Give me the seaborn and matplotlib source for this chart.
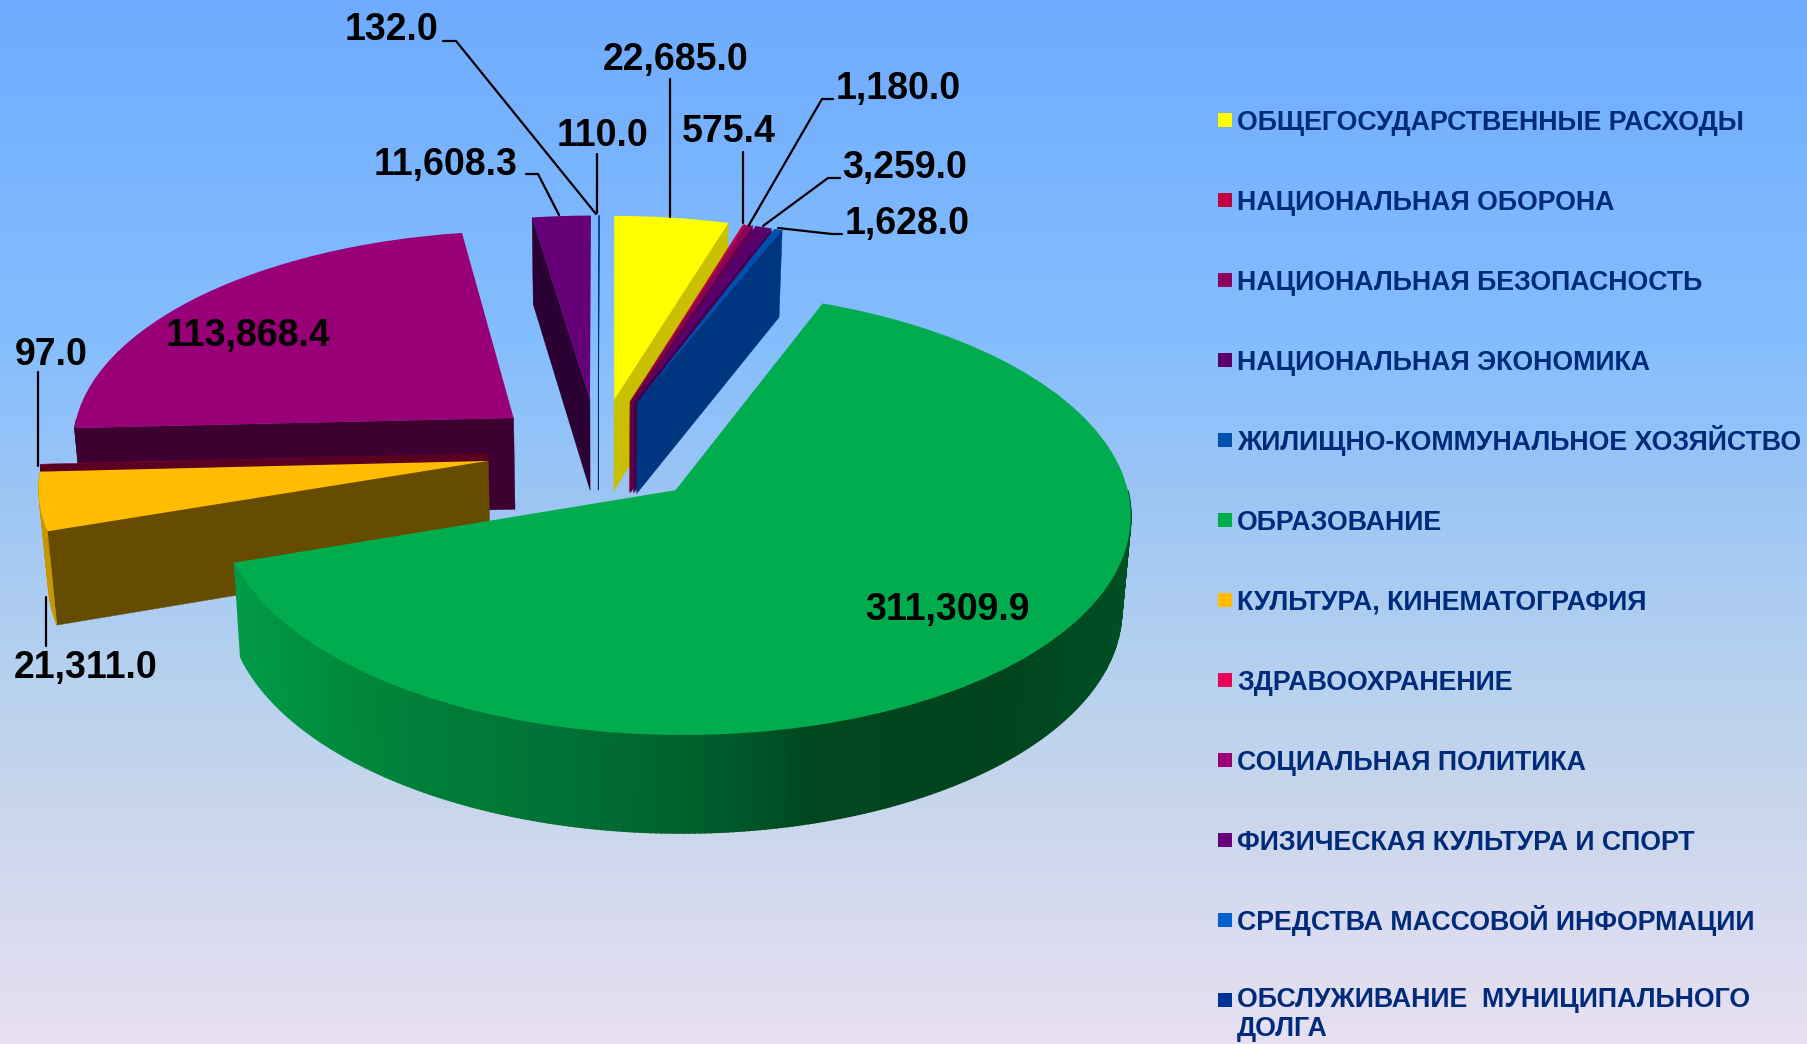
import numpy as np
import matplotlib
matplotlib.use('Agg')
import matplotlib.pyplot as plt
import matplotlib.transforms as mtrans
from matplotlib.colors import LinearSegmentedColormap
import seaborn as sns

categories = ['ОБЩЕГОСУДАРСТВЕННЫЕ РАСХОДЫ', 'НАЦИОНАЛЬНАЯ ОБОРОНА', 'НАЦИОНАЛЬНАЯ БЕЗОПАСНОСТЬ',
              'НАЦИОНАЛЬНАЯ ЭКОНОМИКА', 'ЖИЛИЩНО-КОММУНАЛЬНОЕ ХОЗЯЙСТВО', 'ОБРАЗОВАНИЕ',
              'КУЛЬТУРА, КИНЕМАТОГРАФИЯ', 'ЗДРАВООХРАНЕНИЕ', 'СОЦИАЛЬНАЯ ПОЛИТИКА',
              'ФИЗИЧЕСКАЯ КУЛЬТУРА И СПОРТ', 'СРЕДСТВА МАССОВОЙ ИНФОРМАЦИИ',
              'ОБСЛУЖИВАНИЕ  МУНИЦИПАЛЬНОГО\nДОЛГА']
values = [22685.0, 575.4, 1180.0, 3259.0, 1628.0, 311309.9, 21311.0, 97.0, 113868.4, 11608.3, 110.0, 132.0]

top_colors = ['#FFFF00', '#C00040', '#8A0060', '#5A006A', '#0050B0', '#00AC4E',
              '#FFBC00', '#E8005A', '#990078', '#660078', '#0060D0', '#003399']
face_colors = ['#C8C000', '#8A0030', '#600040', '#400050', '#003580', '#00602C',
               '#664C00', '#5A0020', '#3D0030', '#2B0033', '#0040A0', '#002266']
rim_colors = ['#C8C000', '#8A0030', '#600040', '#400050', '#003580', '#00602C',
              '#C89600', '#5A0020', '#3D0030', '#2B0033', '#0040A0', '#002266']

# back to front, the slices are painted over each other
draw_order = [8, 7, 6, 9, 10, 11, 0, 1, 2, 3, 4, 5]

# where the value labels sit (pixels) and their leader lines
label_pos = [(676, 60), (729, 132), (898, 89), (905, 168), (907, 224), (947, 610),
             (86, 668), (51, 355), (248, 336), (446, 165), (603, 136), (392, 30)]
leaders = [[(670, 79), (670, 217)],
           [(743, 152), (743, 223)],
           [(833, 99), (822, 99), (749, 225)],
           [(840, 178), (828, 178), (763, 226)],
           [(842, 234), (832, 234), (778, 228)],
           [(46, 646), (46, 597)],
           [(38, 372), (38, 466)],
           [(526, 174), (538, 174), (559, 215)],
           [(597, 154), (597, 213)],
           [(443, 41), (456, 41), (596, 214)]]

W, H = 1808, 1044
CX, CY = 598, 451
A, B, P = 444, 212, 0.1
DEPTH = 92
SHRINK = 0.017  # the underside of the pie is a bit narrower


def project(x, y, z=0.0):
    den = 1 + P * y
    return (CX + 1.5 * y + A * (1 - SHRINK * z) * x / den,
            CY - B * y / den + z * DEPTH / np.sqrt(den))


class Tilt(mtrans.Transform):
    input_dims = 2
    output_dims = 2

    def transform_non_affine(self, values):
        values = np.asarray(values)
        px, py = project(values[:, 0], values[:, 1])
        return np.column_stack([px, py])


sns.set_theme(style='white')
plt.rcParams['font.family'] = ['Liberation Sans', 'DejaVu Sans']

fig, ax = plt.subplots(figsize=(W / 100, H / 100), dpi=100)
fig.subplots_adjust(0, 0, 1, 1)

wedges, _ = ax.pie(values, colors=top_colors, explode=[0.25] * len(values), startangle=90,
                   counterclock=False, radius=1, wedgeprops={'linewidth': 0})
ax.set_aspect('auto')
ax.set_axis_off()

# background gradient
bg = LinearSegmentedColormap.from_list('bg', [(0, '#6FABFF'), (0.33, '#85BEFD'), (0.47, '#9CC5F5'),
                                              (0.62, '#B2D0EF'), (0.77, '#C8D6EC'), (1, '#E8E0F2')])
ax.imshow(np.linspace(0, 1, 256)[:, None], cmap=bg, extent=(0, W, H, 0), aspect='auto', zorder=0)

green_rim = LinearSegmentedColormap.from_list('green_rim', [(0, '#009A48'), (0.19, '#008038'), (0.38, '#007035'),
                                                            (0.54, '#005C2A'), (0.65, '#00471F'), (0.85, '#00431E'),
                                                            (1, '#004E24')])


def wall(pts, color, z, lw=0.3):
    # a radial or rim piece hanging down from the top face
    xs, ys = pts[:, 0], pts[:, 1]
    tx, ty = project(xs, ys, 0.0)
    bx, by = project(xs, ys, 1.0)
    ax.fill(np.r_[tx, bx[::-1]], np.r_[ty, by[::-1]], color=color, lw=lw, zorder=z)


for rank, i in enumerate(draw_order):
    w = wedges[i]
    z = 2 + rank
    cx, cy = w.center
    a1, a2 = np.deg2rad(w.theta1), np.deg2rad(w.theta2)

    # clockwise start edge is theta2, its outside looks towards the bigger angle
    for ang, sign in ((a2, 1), (a1, -1)):
        if sign * np.cos(ang) < 0:
            edge = np.array([[cx, cy], [cx + np.cos(ang), cy + np.sin(ang)]])
            wall(edge, face_colors[i], z)

    t = np.linspace(a1, a2, max(3, int((a2 - a1) * 90)))
    for t0, t1 in zip(t[:-1], t[1:]):
        mid = (t0 + t1) / 2
        if np.sin(mid) < 0:
            seg = np.array([[cx + np.cos(t0), cy + np.sin(t0)], [cx + np.cos(t1), cy + np.sin(t1)]])
            if i == 5:
                sx = project(cx + np.cos(mid), cy + np.sin(mid))[0]
                wall(seg, green_rim((sx - 235) / (1132 - 235)), z, lw=1.2)
            else:
                wall(seg, rim_colors[i], z)

    w.set_transform(Tilt() + ax.transData)
    w.set_zorder(z + 0.5)

for i, (x, y) in enumerate(label_pos):
    ax.text(x, y, f'{values[i]:,.1f}', ha='center', va='center', fontsize=27, fontweight='bold',
            color='black', zorder=30)

for pts in leaders:
    pts = np.array(pts)
    sns.lineplot(x=pts[:, 0], y=pts[:, 1], ax=ax, color='black', lw=1.6, sort=False, estimator=None, zorder=29)

# legend rows, evenly spaced; va='baseline' goes by the last line of a wrapped name
for i, name in enumerate(categories):
    y = 120 + i * 80.0
    ax.scatter([1225], [y], s=100, marker='s', color=top_colors[i], linewidths=0, zorder=30)
    ax.text(1237, y + 9.5 + 27 * name.count('\n'), name, ha='left', va='baseline', fontsize=19.3,
            fontweight='bold', color='#002A7A', linespacing=1.19, zorder=30)

ax.set_xlim(0, W)
ax.set_ylim(H, 0)

fig.savefig('out.png', dpi=100)
